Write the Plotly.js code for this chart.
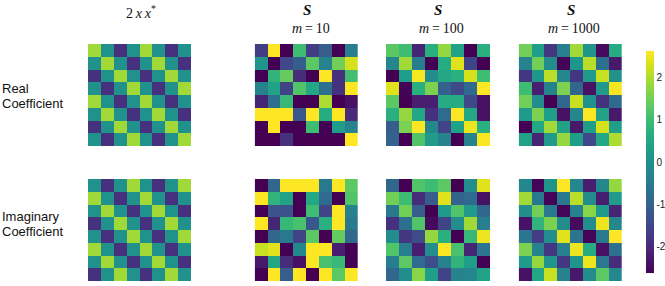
<!DOCTYPE html>
<html><head><meta charset="utf-8">
<script src="https://cdn.plot.ly/plotly-3.0.1.min.js"></script>
<style>html,body{margin:0;padding:0;background:#fff}</style></head><body><div id="c" style="width:665px;height:286px"></div>
<script>
const realTarget=[[1.9,0,-1.9,0,1.9,0,-1.9,0],[0,1.9,0,-1.9,0,1.9,0,-1.9],[-1.9,0,1.9,0,-1.9,0,1.9,0],[0,-1.9,0,1.9,0,-1.9,0,1.9],[1.9,0,-1.9,0,1.9,0,-1.9,0],[0,1.9,0,-1.9,0,1.9,0,-1.9],[-1.9,0,1.9,0,-1.9,0,1.9,0],[0,-1.9,0,1.9,0,-1.9,0,1.9]];
const real10=[[-1.7,2.64,-2.64,1,-1.7,-1.1,-2.64,-0.4],[0.1,-2.64,-1.5,-1.1,1.3,-0.3,1.5,2.3],[-2.64,0.8,1.4,-2,-2.64,2.64,-1.9,1.05],[-0.3,0.4,-1.6,1.2,0.5,-0.7,-1.9,2.64],[-2.1,-0.7,0.9,-2.64,-2.64,2,-2.64,-2.4],[2.64,2.64,2.64,-1.2,2.64,0.6,2.64,-2],[-2.64,2.64,-2.64,-2.64,1,-2.64,0.3,-0.3],[-2.64,-2.64,-1.9,-2.64,-2.64,-2.64,-2.64,2.64]];
const real100=[[1.3,1,-2.1,0.7,1.8,0.4,-2.64,0.7],[-0.2,1.9,-0.4,-2.64,0.6,2.4,-1.6,-2.64],[-2.64,0.3,2.6,-0.1,0.5,0.7,2.3,1],[2.4,-2.6,0.7,1.6,-1,-1.5,-0.8,2.64],[1.3,-2.64,-2.2,-2.2,0.6,0.6,-1.5,-2.4],[0.7,1.8,0.5,-1.9,-0.8,2.64,0.5,-2.4],[-1.1,1.6,2.64,-0.2,-1.6,0.4,2.5,0.7],[-1,-2.64,1.2,0.2,-0.3,-2.64,-0.3,2.6]];
const real1000=[[1.5,0.3,-1.8,-0.4,1.9,0.1,-2.5,0.6],[-0.3,1.5,-0.1,-2.6,0.1,2.1,-0.7,-2.3],[-1.8,0.1,2.1,-0.2,-1.8,0.2,2.2,0],[1,-2.2,-0.3,1.6,-0.9,-2.4,0.2,2.6],[1.5,-0.1,-2.64,-0.9,2.2,0,-1.9,-0.8],[0.2,1.6,0.3,-2.4,-0.2,2.64,0.4,-2.3],[-2.64,0.5,1.9,0.4,-2.3,0.3,2.3,0.3],[0.4,-2.1,0.2,1.8,0.3,-1.5,0.5,2]];
const imagTarget=[[0,-1.9,0,1.9,0,-1.9,0,1.9],[1.9,0,-1.9,0,1.9,0,-1.9,0],[0,1.9,0,-1.9,0,1.9,0,-1.9],[-1.9,0,1.9,0,-1.9,0,1.9,0],[0,-1.9,0,1.9,0,-1.9,0,1.9],[1.9,0,-1.9,0,1.9,0,-1.9,0],[0,1.9,0,-1.9,0,1.9,0,-1.9],[-1.9,0,1.9,0,-1.9,0,1.9,0]];
const imag10=[[-2.64,-0.9,2.64,2.64,2.64,-0.5,2.64,1.3],[2.64,0.8,0.4,-2.64,0.5,-0.8,-2.64,1.2],[-2.64,-1.3,-1.3,-2.64,1,-1.6,2.64,-0.3],[2.64,-2.1,0.9,1.1,-1.2,0.7,2.64,-0.5],[-2.64,-0.9,-0.5,-1.6,1.3,-2.64,1.4,-0.9],[2.2,2.4,-2.64,-0.2,2.64,2.64,-2.2,-2.64],[-2.3,0.5,-2,-2.4,2.64,1.1,0.9,-2.64],[-2.64,2.64,-1.1,2.64,-2.64,2.64,1.3,2.64]];
const imag100=[[-0.9,-2.64,1.2,1,1.3,-2.64,-0.1,2.4],[1.5,1,-2,-1.1,2.4,-1,-0.8,-2.4],[-0.5,1.5,-1.1,-2.64,0.2,1.2,0.2,-0.9],[-1.9,-0.7,1.2,-2.5,-1.6,-0.1,1.9,-0.4],[-0.1,-1.8,-1.4,1.8,0.7,-2.64,0.9,2.5],[1.2,-0.4,-2.2,-0.1,2.64,1.1,-2.1,-0.6],[-0.4,1.3,-0.8,-1.4,-0.3,0.8,0.3,-2.64],[-0.9,-0.1,1.7,0.3,-1.6,-0.3,-0.2,0.4]];
const imag1000=[[-0.2,-2.6,0.1,2.64,-0.2,-2.2,-0.2,1.8],[1.9,-0.5,-2.6,-0.5,2.1,-0.1,-2.2,0.2],[-0.1,1.5,-0.5,-2.6,-0.3,1.7,0.2,-2.1],[-2.4,0.8,1.6,-0.1,-2.5,-0.1,2.5,-0.2],[-0.6,-1.7,-0.1,2.4,-0.6,-2.6,-0.5,2.64],[1.6,-0.3,-1.8,-0.4,2.5,0.6,-2.4,-0.7],[0.2,1.8,0.1,-1.8,0.1,2.5,-0.5,-2],[-2.4,0.5,2.2,-0.3,-2.3,-0.1,1.3,-0.2]];
const panels=[realTarget,real10,real100,real1000,imagTarget,imag10,imag100,imag1000];
const colorTicks=[-2,-1,0,1,2];
const W=665,H=286;
const xr=[[88,191],[254.7,358],[386,490],[518.7,622]];
const yr=[[44,146],[179,281]];
const traces=[],layout={width:W,height:H,margin:{l:0,r:0,t:0,b:0},paper_bgcolor:'#fff',plot_bgcolor:'#fff',showlegend:false,annotations:[]};
panels.forEach((z,i)=>{
  const n=i+1,c=i%4,r=Math.floor(i/4),s=n>1?n:'';
  traces.push({type:'heatmap',z:z,xaxis:'x'+s,yaxis:'y'+s,colorscale:'Viridis',zmin:-2.64,zmax:2.64,showscale:i===0,
    colorbar:i===0?{x:645.7/W,xanchor:'left',xref:'paper',y:(H-273)/H,yanchor:'bottom',yref:'paper',len:222/H,lenmode:'fraction',thickness:7.5,thicknessmode:'pixels',outlinewidth:0,tickvals:colorTicks,ticktext:colorTicks.map(String),ticks:'',tickfont:{family:'Liberation Sans',size:10,color:'#222'},xpad:0,ypad:0}:undefined});
  layout['xaxis'+s]={domain:[xr[c][0]/W,xr[c][1]/W],visible:false,anchor:'y'+s};
  layout['yaxis'+s]={domain:[1-yr[r][1]/H,1-yr[r][0]/H],visible:false,autorange:'reversed',anchor:'x'+s};
});
const serif='Liberation Serif',sans='Liberation Sans';
function ann(x,y,text,size,family,align){layout.annotations.push({xref:'paper',yref:'paper',x:x/W,y:1-y/H,text:text,showarrow:false,borderpad:0,borderwidth:0,font:{family:family||serif,size:size,color:'#111'},xanchor:align||'center',yanchor:'middle',align:align||'center'});}
ann(141,11.5,'2\u2009<i>x</i>\u2009<i>x</i><sup>*</sup>',14);
[[306.6,311,'10'],[438.3,441.7,'100'],[570.7,574,'1000']].forEach(p=>{
  ann(p[0],10,'<b><i>S</i></b>',15);
  ann(p[1],29,'<i>m</i>\u2009=\u2009'+p[2],14);
});
ann(2,88,'Real',13,sans,'left');
ann(2,103,'Coefficient',13,sans,'left');
ann(2,216,'Imaginary',13,sans,'left');
ann(2,231,'Coefficient',13,sans,'left');
Plotly.newPlot('c',traces,layout,{displayModeBar:false,staticPlot:true});
</script></body></html>
